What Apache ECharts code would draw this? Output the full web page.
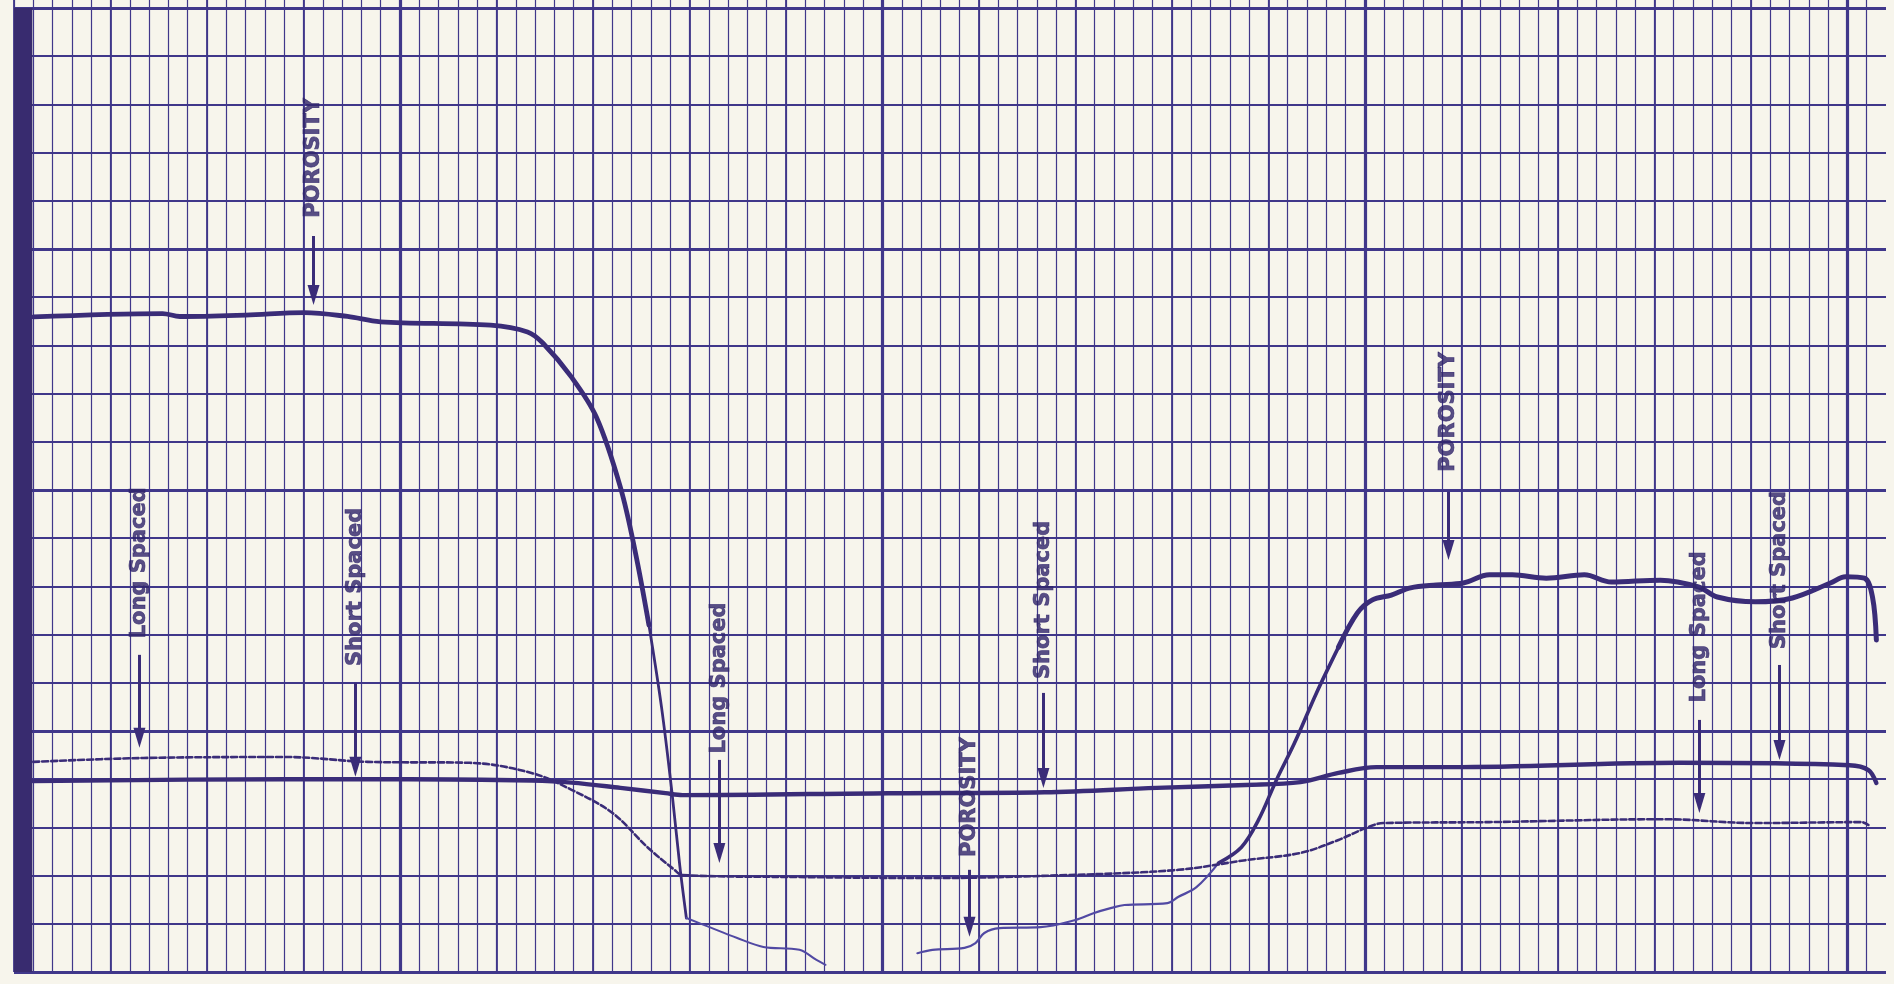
<!DOCTYPE html>
<html>
<head>
<meta charset="utf-8">
<title>Porosity log</title>
<script src="https://cdn.jsdelivr.net/npm/echarts@6/dist/echarts.min.js"></script>
<style>
  html, body { margin: 0; padding: 0; background: #f7f5ec; }
  #chart { width: 1894px; height: 984px; }
</style>
</head>
<body>
<div id="chart"></div>
<script>
// x and y are counted in chart divisions (25 small ones between heavy verticals, 5 between heavy horizontals)

// porosity trace, split where the pen line gets thinner
const porosityTop = [[-4.0, 13.59], [2.7, 13.66], [3.6, 13.6], [7.0, 13.63], [10.05, 13.68], [12.28, 13.6], [13.99, 13.49], [19.69, 13.42], [21.61, 13.28], [22.4, 13.05], [23.89, 12.34], [25.18, 11.51], [26.42, 10.06], [27.2, 8.7], [27.9, 7.2]]
const porosityDrop = [[27.9, 7.2], [28.55, 5.5], [29.1, 3.7], [29.5, 2.2], [29.84, 1.12]]
const porosityFloor = [[29.84, 1.12], [31.04, 0.93], [32.44, 0.71], [33.83, 0.52], [35.70, 0.46], [36.58, 0.25], [37.05, 0.15]]
const porosityRiseLow = [[41.81, 0.39], [42.59, 0.46], [44.25, 0.50], [44.82, 0.60], [45.28, 0.81], [46.06, 0.91], [48.19, 0.93], [50.00, 1.08], [50.93, 1.22], [51.87, 1.33], [52.54, 1.39], [54.77, 1.43], [55.34, 1.56], [56.27, 1.76], [57.41, 2.26]]
const porosityRise = [[57.41, 2.26], [58.60, 2.59], [59.48, 3.15], [60.41, 3.98], [61.35, 4.75], [62.49, 5.79], [63.63, 6.74]]
const porosityHigh = [[63.63, 6.74], [64.61, 7.45], [65.39, 7.72], [66.37, 7.82], [67.36, 7.97], [68.70, 8.03], [70.10, 8.07], [71.45, 8.24], [72.64, 8.24], [74.40, 8.17], [76.37, 8.24], [77.77, 8.09], [80.31, 8.13], [82.28, 7.99], [83.26, 7.78], [85.23, 7.68], [87.15, 7.76], [89.12, 8.07], [89.90, 8.20], [90.88, 8.17], [91.30, 7.78], [91.50, 6.89]]

// short spaced (solid) and long spaced (dashed) traces
const shortSpaced = [[-4.0, 3.96], [9.12, 4.0], [15.44, 4.0], [21.81, 3.97], [23.89, 3.93], [26.42, 3.82], [28.76, 3.71], [29.64, 3.67], [40.31, 3.71], [48.39, 3.73], [54.20, 3.82], [58.81, 3.88], [61.66, 3.94], [63.63, 4.13], [65.60, 4.25], [69.48, 4.25], [81.30, 4.34], [90.10, 4.29], [91.09, 4.19], [91.50, 3.92]]
const longSpaced = [[-4.0, 4.36], [1.71, 4.44], [9.12, 4.46], [13.32, 4.36], [18.60, 4.34], [21.81, 4.13], [23.89, 3.78], [26.01, 3.30], [27.82, 2.59], [29.22, 2.12], [29.64, 2.01], [35.70, 1.97], [42.59, 1.95], [49.53, 2.01], [55.34, 2.12], [58.81, 2.32], [61.66, 2.47], [63.63, 2.74], [65.18, 3.01], [65.96, 3.09], [71.45, 3.11], [80.52, 3.17], [85.23, 3.09], [90.73, 3.11], [91.09, 3.05]]

// annotations written on the chart, each with an arrow pointing down at its trace
const labelText = ['POROSITY', 'Long Spaced', 'Short Spaced', 'Long Spaced', 'POROSITY', 'Short Spaced', 'POROSITY', 'Long Spaced', 'Short Spaced']
const labelX = [10.52, 1.50, 12.69, 31.55, 44.51, 48.34, 69.33, 82.33, 86.48]
const labelY = [16.89, 8.49, 7.99, 6.10, 3.63, 7.72, 11.62, 7.16, 8.34]
const arrowTop = [15.27, 6.58, 6.00, 4.40, 2.12, 5.79, 9.96, 5.23, 6.37]
const arrowTip = [13.84, 4.65, 4.05, 2.26, 0.73, 3.82, 8.55, 3.30, 4.40]

const ink = '#3a2c78'
const inkLight = '#5149a3'
const gridInk = '#40378a'
const headLen = 20
const headOffset = headLen / 2 / 48.2

const hidden = { axisLine: { show: false }, axisTick: { show: false }, axisLabel: { show: false } }

function vSplit(width) {
  return { show: true, showMinLine: true, showMaxLine: false, lineStyle: { color: gridInk, width: width } }
}

function trace(data, width, color, type) {
  return {
    type: 'line',
    xAxisIndex: 0,
    yAxisIndex: 0,
    data: data,
    symbol: 'none',
    smooth: 0.35,
    lineStyle: { color: color, width: width, type: type || 'solid', cap: 'round', join: 'round' },
    z: 5
  }
}

const chart = echarts.init(document.getElementById('chart'), null, { renderer: 'canvas' })

const arrows = labelX.map((x, i) => [
  { coord: [x, arrowTop[i]] },
  { coord: [x, arrowTip[i] + headOffset] }
])

const labels = labelX.map((x, i) => [x, labelY[i], labelText[i]])

chart.setOption({
  backgroundColor: '#f7f5ec',
  animation: false,
  grid: [
    { left: 14, right: 8, top: 8, bottom: 12 },
    { left: 14, right: 8, top: 0, bottom: 12 },
    { left: 400, right: 8, top: 0, bottom: 12 }
  ],
  xAxis: [
    Object.assign({ type: 'value', gridIndex: 0, min: -5, max: 92, splitLine: { show: false } }, hidden),
    Object.assign({ type: 'value', gridIndex: 1, min: -5, max: 92, interval: 1, splitLine: vSplit(1.2) }, hidden),
    Object.assign({ type: 'value', gridIndex: 1, min: -5, max: 92, interval: 5, splitLine: vSplit(1.8) }, hidden),
    Object.assign({ type: 'value', gridIndex: 2, min: 0, max: 77, interval: 25, splitLine: vSplit(3.2) }, hidden)
  ],
  yAxis: [
    Object.assign({ type: 'value', gridIndex: 0, min: 0, max: 20, interval: 1, splitLine: { show: true, lineStyle: { color: gridInk, width: 1.8 } } }, hidden),
    Object.assign({ type: 'value', gridIndex: 0, min: 0, max: 20, interval: 5, splitLine: { show: true, lineStyle: { color: gridInk, width: 3 } } }, hidden),
    Object.assign({ type: 'value', gridIndex: 1, min: 0, max: 1, splitLine: { show: false } }, hidden),
    Object.assign({ type: 'value', gridIndex: 2, min: 0, max: 1, splitLine: { show: false } }, hidden)
  ],
  series: [
    // the dark edge strip on the left of the paper
    {
      type: 'line',
      xAxisIndex: 0,
      yAxisIndex: 0,
      data: [],
      markArea: {
        silent: true,
        itemStyle: { color: '#382b6f' },
        data: [[{ xAxis: -5, yAxis: -0.1 }, { xAxis: -4.05, yAxis: 20 }]]
      },
      z: 6
    },
    trace(porosityTop, 4.8, ink),
    trace(porosityDrop, 2.8, ink),
    trace(porosityFloor, 2, inkLight),
    trace(porosityRiseLow, 2.2, inkLight),
    trace(porosityRise, 3.6, ink),
    trace(porosityHigh, 5, ink),
    trace(shortSpaced, 4.4, ink),
    trace(longSpaced, 2.6, ink, [6, 3]),
    {
      type: 'line',
      xAxisIndex: 0,
      yAxisIndex: 0,
      data: [],
      markLine: {
        silent: true,
        symbol: ['none', 'triangle'],
        symbolSize: [12, headLen],
        label: { show: false },
        lineStyle: { color: ink, width: 3, type: 'solid' },
        data: arrows
      },
      z: 7
    },
    {
      type: 'scatter',
      xAxisIndex: 0,
      yAxisIndex: 0,
      data: labels,
      symbolSize: 1,
      itemStyle: { color: 'rgba(0,0,0,0)' },
      label: {
        show: true,
        position: 'inside',
        rotate: 90,
        formatter: p => p.value[2],
        fontFamily: 'DejaVu Sans',
        fontWeight: 'bold',
        fontSize: 21,
        color: '#30246a',
        textBorderColor: '#30246a',
        textBorderWidth: 0.7
      },
      z: 8
    }
  ]
})
</script>
</body>
</html>
